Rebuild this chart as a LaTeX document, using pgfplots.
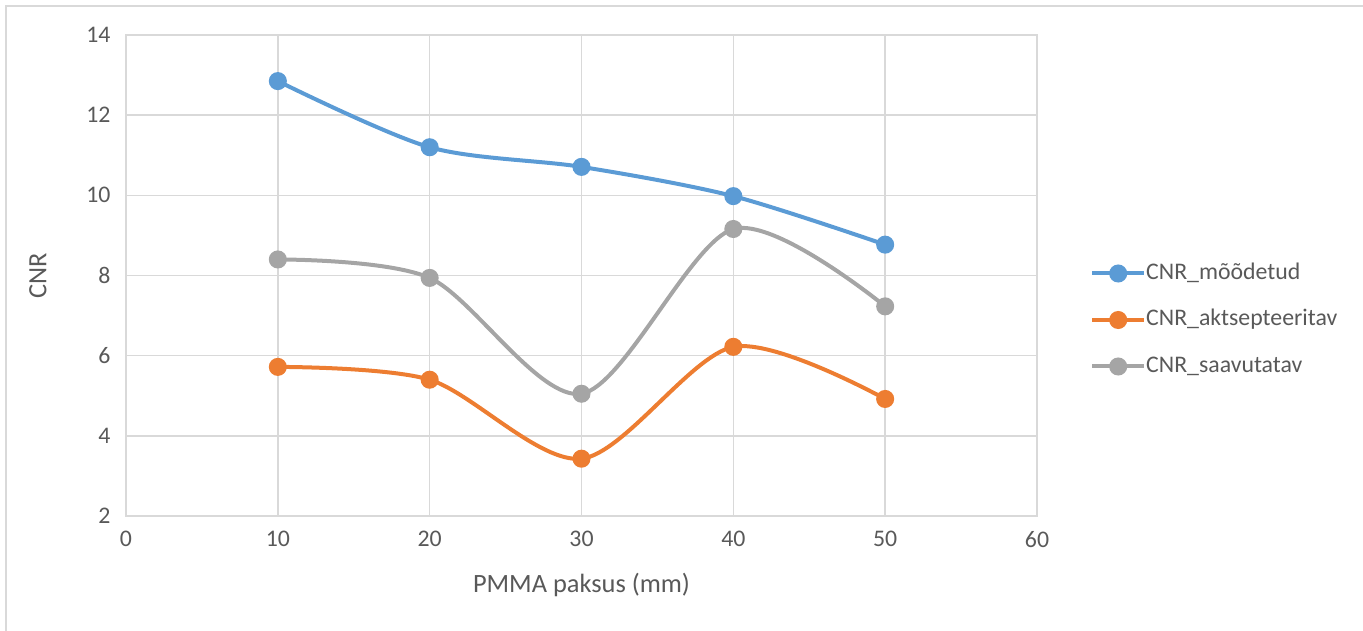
\documentclass[border=0pt]{standalone}
\usepackage{fontspec}
\setmainfont{Carlito}
\usepackage{pgfplots}
\pgfplotsset{compat=1.18}
\definecolor{cblue}{HTML}{5B9BD5}
\definecolor{corange}{HTML}{ED7D31}
\definecolor{cgray}{HTML}{A5A5A5}
\definecolor{gridc}{HTML}{D9D9D9}
\definecolor{labc}{HTML}{595959}
\begin{document}
\begin{tikzpicture}[x=1pt,y=1pt]
\useasboundingbox (0,0) rectangle (1363,630);
\begin{scope}
\clip (0,0) rectangle (1363,630);
\draw[color=gridc, line width=1.5pt] (6,-10) -- (6,624) -- (1400,624);
\end{scope}
\begin{axis}[
  at={(126pt,114pt)}, anchor=south west,
  scale only axis, width=911pt, height=481pt,
  xmin=0, xmax=60, ymin=2, ymax=14,
  xtick={0,10,...,60}, ytick={2,4,...,14},
  grid=major, grid style={gridc, line width=1.5pt},
  axis line style={gridc, line width=1.5pt},
  tick style={draw=none},
  /pgf/number format/assume math mode=true,
  tick label style={font=\fontsize{23.8}{28}\selectfont, text=labc},
  yticklabel style={xshift=-12pt},
  xticklabel style={yshift=-12pt},
  xlabel={PMMA paksus (mm)}, ylabel={CNR},
  label style={font=\fontsize{26.4}{31}\selectfont, text=labc},
  xlabel style={at={(axis description cs:0.5,-0.1435)}, anchor=center},
  ylabel style={at={(axis description cs:-0.0966,0.5)}, anchor=center},
  legend style={at={(axis description cs:1.0582,0.4075)}, anchor=west,
    draw=none, fill=none, inner sep=0pt, row sep=24.5pt,
    font=\fontsize{23.8}{28}\selectfont, text=labc,
    nodes={text height=17pt, text depth=5pt, inner sep=0pt},
    /tikz/every even column/.append style={column sep=6pt}},
  legend cell align=left,
  legend image code/.code={\draw[mark repeat=2,mark phase=2] plot coordinates {(0pt,0pt) (26pt,0pt) (52pt,0pt)};},
  every axis plot/.append style={line width=4pt, smooth, mark=*, mark size=7pt, mark options={solid, line width=0pt}},
]
\addplot[color=cblue, mark options={fill=cblue}] coordinates {(10,12.85) (20,11.2) (30,10.71) (40,9.98) (50,8.77)};
\addlegendentry{CNR\_mõõdetud}
\addplot[color=corange, mark options={fill=corange}] coordinates {(10,5.72) (20,5.40) (30,3.43) (40,6.22) (50,4.92)};
\addlegendentry{CNR\_aktsepteeritav}
\addplot[color=cgray, mark options={fill=cgray}] coordinates {(10,8.40) (20,7.94) (30,5.05) (40,9.16) (50,7.23)};
\addlegendentry{CNR\_saavutatav}
\end{axis}
\end{tikzpicture}
\end{document}
